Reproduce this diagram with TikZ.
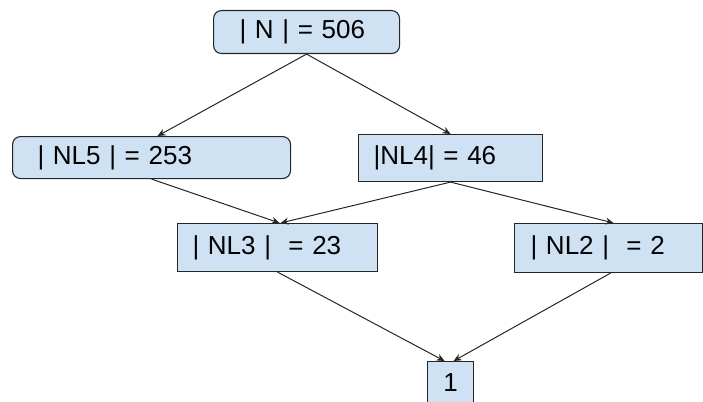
\documentclass[tikz,border=0pt]{standalone}
\usepackage{fontspec}
\setmainfont{Liberation Sans}
\usetikzlibrary{arrows.meta}

\begin{document}
\begin{tikzpicture}[x=1pt, y=-1pt]
  \definecolor{boxblue}{HTML}{CFE2F3}
  \tikzstyle{every node}=[font=\fontsize{26}{30}\selectfont]
  \tikzstyle{box}=[draw=black!85, fill=boxblue, line width=1.1pt, anchor=north west,
                   align=left, inner ysep=0pt]
  \tikzstyle{arr}=[-{Stealth[length=8pt,width=7pt]}, line width=1pt, black!85]

  \useasboundingbox (0,0) rectangle (703,401);

  % the sets, top to bottom
  \node[box, rounded corners=8pt, text width=134pt, inner xsep=26pt, minimum height=43pt]
    (n) at (213,10) {| N | = 506};
  \node[box, rounded corners=8pt, text width=228pt, inner xsep=25pt, minimum height=42pt]
    (nl5) at (12,136) {| NL5 | = 253};
  \node[box, text width=154pt, inner xsep=15pt, minimum height=47pt]
    (nl4) at (358,134) {|NL4| = 46};
  \node[box, text width=170pt, inner xsep=15pt, minimum height=48pt]
    (nl3) at (177,223) {| NL3 |~~= 23};
  \node[box, text width=156pt, inner xsep=16pt, minimum height=49pt]
    (nl2) at (514,223) {| NL2 |~~= 2};
  \node[box, align=center, text width=46pt, inner xsep=0pt, minimum height=42pt]
    (one) at (427,361) {1};

  \draw[arr] (n.south) -- ([xshift=6pt]nl5.north);
  \draw[arr] (n.south) -- (nl4.north);
  \draw[arr] (nl5.south) -- ([xshift=2pt]nl3.north);
  \draw[arr] (nl4.south) -- ([xshift=3pt]nl3.north);
  \draw[arr] (nl4.south) -- ([xshift=5pt]nl2.north);
  \draw[arr] (nl3.south) -- ([xshift=-6pt]one.north);
  \draw[arr] ([xshift=2pt]nl2.south) -- ([xshift=3pt]one.north);
\end{tikzpicture}
\end{document}
